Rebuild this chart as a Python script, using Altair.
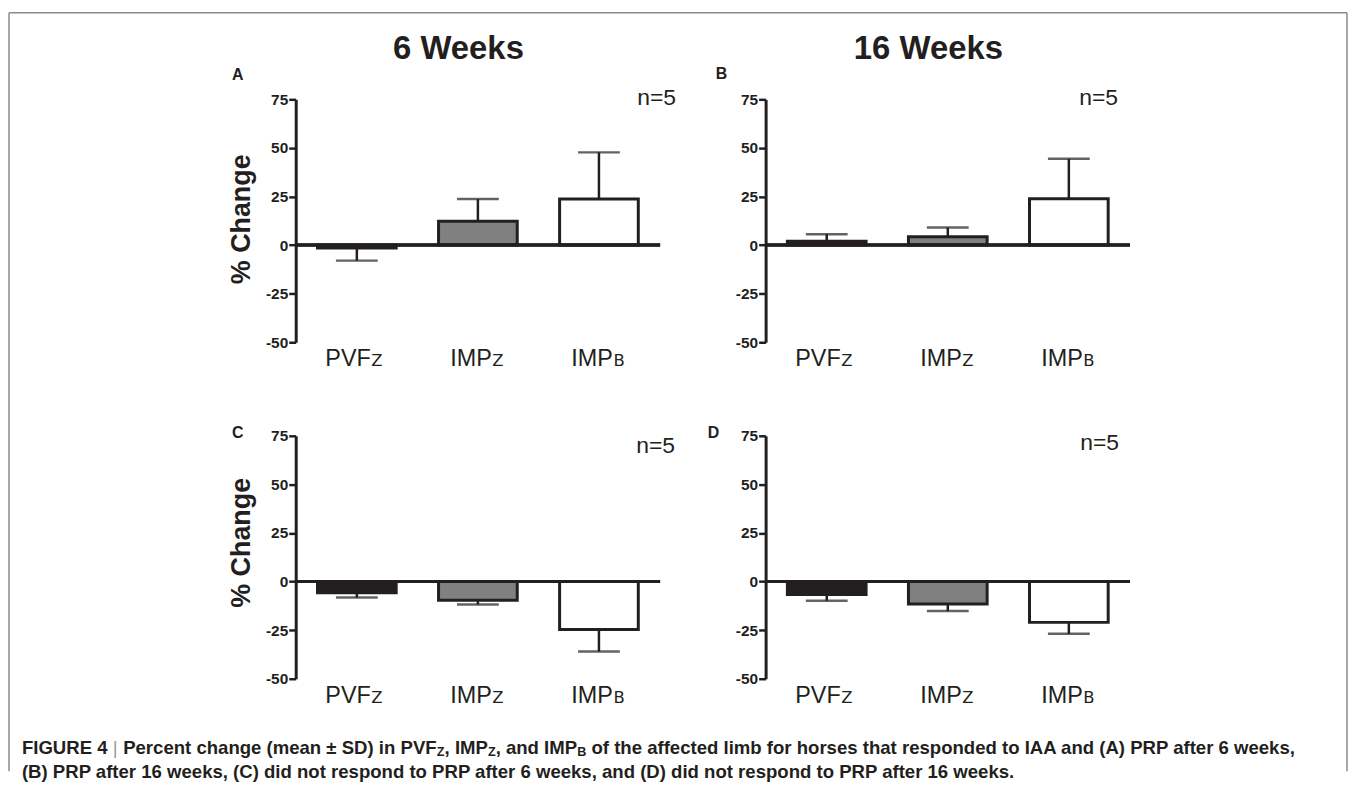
import altair as alt
import numpy as np
import pandas as pd

# ---------------- data ----------------
categories = ["PVFZ", "IMPZ", "IMPB"]
label_main = ["PVF", "IMP", "IMP"]
label_sub = ["Z", "Z", "B"]
fills = ["#231f20", "#808080", "#ffffff"]

mean_A = [-1.5, 12.3, 23.7]
sd_A = [6.5, 11.4, 24.0]
mean_B = [2.0, 4.3, 23.8]
sd_B = [3.6, 4.7, 20.6]
mean_C = [-5.8, -9.6, -24.7]
sd_C = [2.4, 2.2, 11.3]
mean_D = [-6.7, -11.5, -21.0]
sd_D = [3.2, 3.7, 5.9]
means = {"A": mean_A, "B": mean_B, "C": mean_C, "D": mean_D}
sds = {"A": sd_A, "B": sd_B, "C": sd_C, "D": sd_D}

col_titles = ["6 Weeks", "16 Weeks"]
n_label = "n=5"
y_title = "% Change"
y_ticks = [-50, -25, 0, 25, 50, 75]

caption_line1 = [
    ("FIGURE 4 ", "main"),
    ("|", "bar"),
    (" Percent change (mean ± SD) in PVF", "main"),
    ("Z", "sub"),
    (", IMP", "main"),
    ("Z", "sub"),
    (", and IMP", "main"),
    ("B", "sub"),
    (" of the affected limb for horses that responded to IAA and (A) PRP after 6 weeks,", "main"),
]
caption_line2 = "(B) PRP after 16 weeks, (C) did not respond to PRP after 6 weeks, and (D) did not respond to PRP after 16 weeks."

# ---------------- style ----------------
INK = "#231f20"
FONT = "Liberation Sans"
W, H = 366, 244

# Arial/Helvetica-Bold advance widths (1/1000 em) used to chain caption segments
HB = {" ": 278, "(": 333, ")": 333, ",": 278, ".": 278, "|": 280, "±": 549,
      "0": 556, "1": 556, "4": 556, "6": 556,
      "A": 722, "B": 722, "C": 722, "D": 722, "E": 667, "F": 611, "G": 778,
      "I": 278, "M": 833, "P": 667, "R": 722, "S": 667, "U": 722, "V": 667, "Z": 611,
      "a": 556, "b": 611, "c": 556, "d": 611, "e": 556, "f": 333, "g": 611,
      "h": 611, "i": 278, "k": 556, "l": 278, "m": 889, "n": 611, "o": 611,
      "p": 611, "r": 389, "s": 556, "t": 333, "w": 778, "y": 556}
SUB_RATIO = 0.68


def em_width(s):
    return sum(HB.get(ch, 556) for ch in s) / 1000.0


line1_em = sum(em_width(s) * (SUB_RATIO if k == "sub" else 1.0) for s, k in caption_line1)
CAP_SIZE = round(1280 / line1_em, 2)
SUB_SIZE = round(CAP_SIZE * SUB_RATIO, 2)

one = pd.DataFrame({"k": [0]})


def label_layer(text, x, y, size, weight="normal", align="left", font=FONT, color=INK):
    return alt.Chart(one).mark_text(
        text=text, align=align, baseline="alphabetic", fontSize=size,
        fontWeight=weight, font=font, color=color
    ).encode(x=alt.value(x), y=alt.value(y))


def panel(key, title_text=None, show_ytitle=False, letter_pos=(0, 0), n_pos=(0, 0), title_y=None,
          border=False, caption=False):
    df = pd.DataFrame({
        "cat": categories, "main": label_main, "sub": label_sub,
        "mean": means[key], "sd": sds[key],
    })
    df["err"] = df["mean"] + np.sign(df["mean"]) * df["sd"]
    base = alt.Chart(df)

    xenc = alt.X("cat:N", sort=categories, axis=None,
                 scale=alt.Scale(paddingInner=0.35, paddingOuter=0.18))
    yscale = alt.Scale(domain=[-50, 75], nice=False, zero=False)

    axis_kw = dict(values=y_ticks, grid=False, tickSize=7, tickWidth=2.5, tickColor=INK,
                   domainColor=INK, domainWidth=3, labelFont=FONT, labelFontWeight="bold",
                   labelFontSize=15.5, labelColor=INK, labelPadding=1,
                   labelExpr="replace(datum.label, '\u2212', '-')")
    if show_ytitle:
        axis_kw.update(title=y_title, titleFont=FONT, titleFontSize=27, titleFontWeight="bold",
                       titleColor=INK, titlePadding=10)
        if title_y is not None:
            axis_kw["titleY"] = title_y
    else:
        axis_kw.update(title="")
    yaxis = alt.Axis(**axis_kw)

    bars = base.mark_bar(stroke=INK, strokeWidth=3).encode(
        x=xenc,
        y=alt.Y("mean:Q", scale=yscale, axis=yaxis),
        y2=alt.datum(0),
        color=alt.Color("cat:N", scale=alt.Scale(domain=categories, range=fills), legend=None),
    )
    zero = base.mark_rule(color=INK, strokeWidth=3).encode(
        y=alt.Y(datum=0, scale=yscale, axis=yaxis))
    stem = base.mark_rule(color=INK, strokeWidth=2.5).encode(
        x=xenc, y=alt.Y("mean:Q", scale=yscale, axis=yaxis), y2="err:Q")
    cap = base.mark_tick(color=INK, thickness=2.5, size=42).encode(
        x=xenc, y=alt.Y("err:Q", scale=yscale, axis=yaxis))
    lab_main = base.mark_text(align="right", baseline="alphabetic", fontSize=23.5, font=FONT,
                              color=INK, dx=14).encode(x=xenc, y=alt.value(H + 24), text="main:N")
    lab_sub = base.mark_text(align="left", baseline="alphabetic", fontSize=16.5, font="DejaVu Sans",
                             color=INK, dx=14.5).encode(x=xenc, y=alt.value(H + 24), text="sub:N")

    layers = [bars, zero, stem, cap, lab_main, lab_sub]
    layers.append(label_layer(key, letter_pos[0], letter_pos[1], 16, weight="bold"))
    layers.append(label_layer(n_label, n_pos[0], n_pos[1], 23, align="right"))
    if title_text:
        layers.append(label_layer(title_text, 163.5, -41, 33, weight="bold", align="center"))
    if border:
        bc = "#8a8a8a"
        bw = 1.5
        left, top, right, bottom = -288, -87, 1056, 675
        layers.append(alt.Chart(one).mark_rule(color=bc, strokeWidth=bw).encode(
            x=alt.value(left), y=alt.value(top), y2=alt.value(bottom)))
        layers.append(alt.Chart(one).mark_rule(color=bc, strokeWidth=bw).encode(
            x=alt.value(right), y=alt.value(top), y2=alt.value(bottom)))
        layers.append(alt.Chart(one).mark_rule(color=bc, strokeWidth=bw).encode(
            x=alt.value(left), x2=alt.value(right), y=alt.value(top)))
    if caption:
        x0, y1, y2 = -275, 320, 344
        xpos = x0
        for seg, kind in caption_line1:
            size = SUB_SIZE if kind == "sub" else CAP_SIZE
            # SVG drops leading blanks, so advance over them explicitly
            stripped = seg.lstrip(" ")
            xpos += em_width(seg[: len(seg) - len(stripped)]) * size
            if kind == "sub":
                layers.append(label_layer(stripped, xpos, y1 + 2, size, weight="bold"))
            elif kind == "bar":
                layers.append(label_layer(stripped, xpos, y1, size, weight="normal", color="#9a9a9a"))
            else:
                layers.append(label_layer(stripped, xpos, y1, size, weight="bold"))
            xpos += em_width(stripped) * size
        layers.append(label_layer(caption_line2, x0, y2, CAP_SIZE, weight="bold"))

    return alt.layer(*layers).properties(width=W, height=H)


pA = panel("A", title_text=col_titles[0], show_ytitle=True, letter_pos=(-64, -19), n_pos=(382, 6),
           title_y=120, border=True)
pB = panel("B", title_text=col_titles[1], letter_pos=(-50, -20), n_pos=(354, 6))
pC = panel("C", show_ytitle=True, letter_pos=(-64, 2), n_pos=(381, 17), title_y=107, caption=True)
pD = panel("D", letter_pos=(-58, 2), n_pos=(355, 14))

chart = alt.concat(pA, pB, pC, pD, columns=2, spacing={"row": 94, "column": 106}, bounds="flush").properties(
    padding={"left": 0, "top": 2, "right": 0, "bottom": 0}
).configure(font=FONT, background="#ffffff").configure_view(stroke=None)

chart.save("out.html", embed_options={"renderer": "svg", "actions": False})
